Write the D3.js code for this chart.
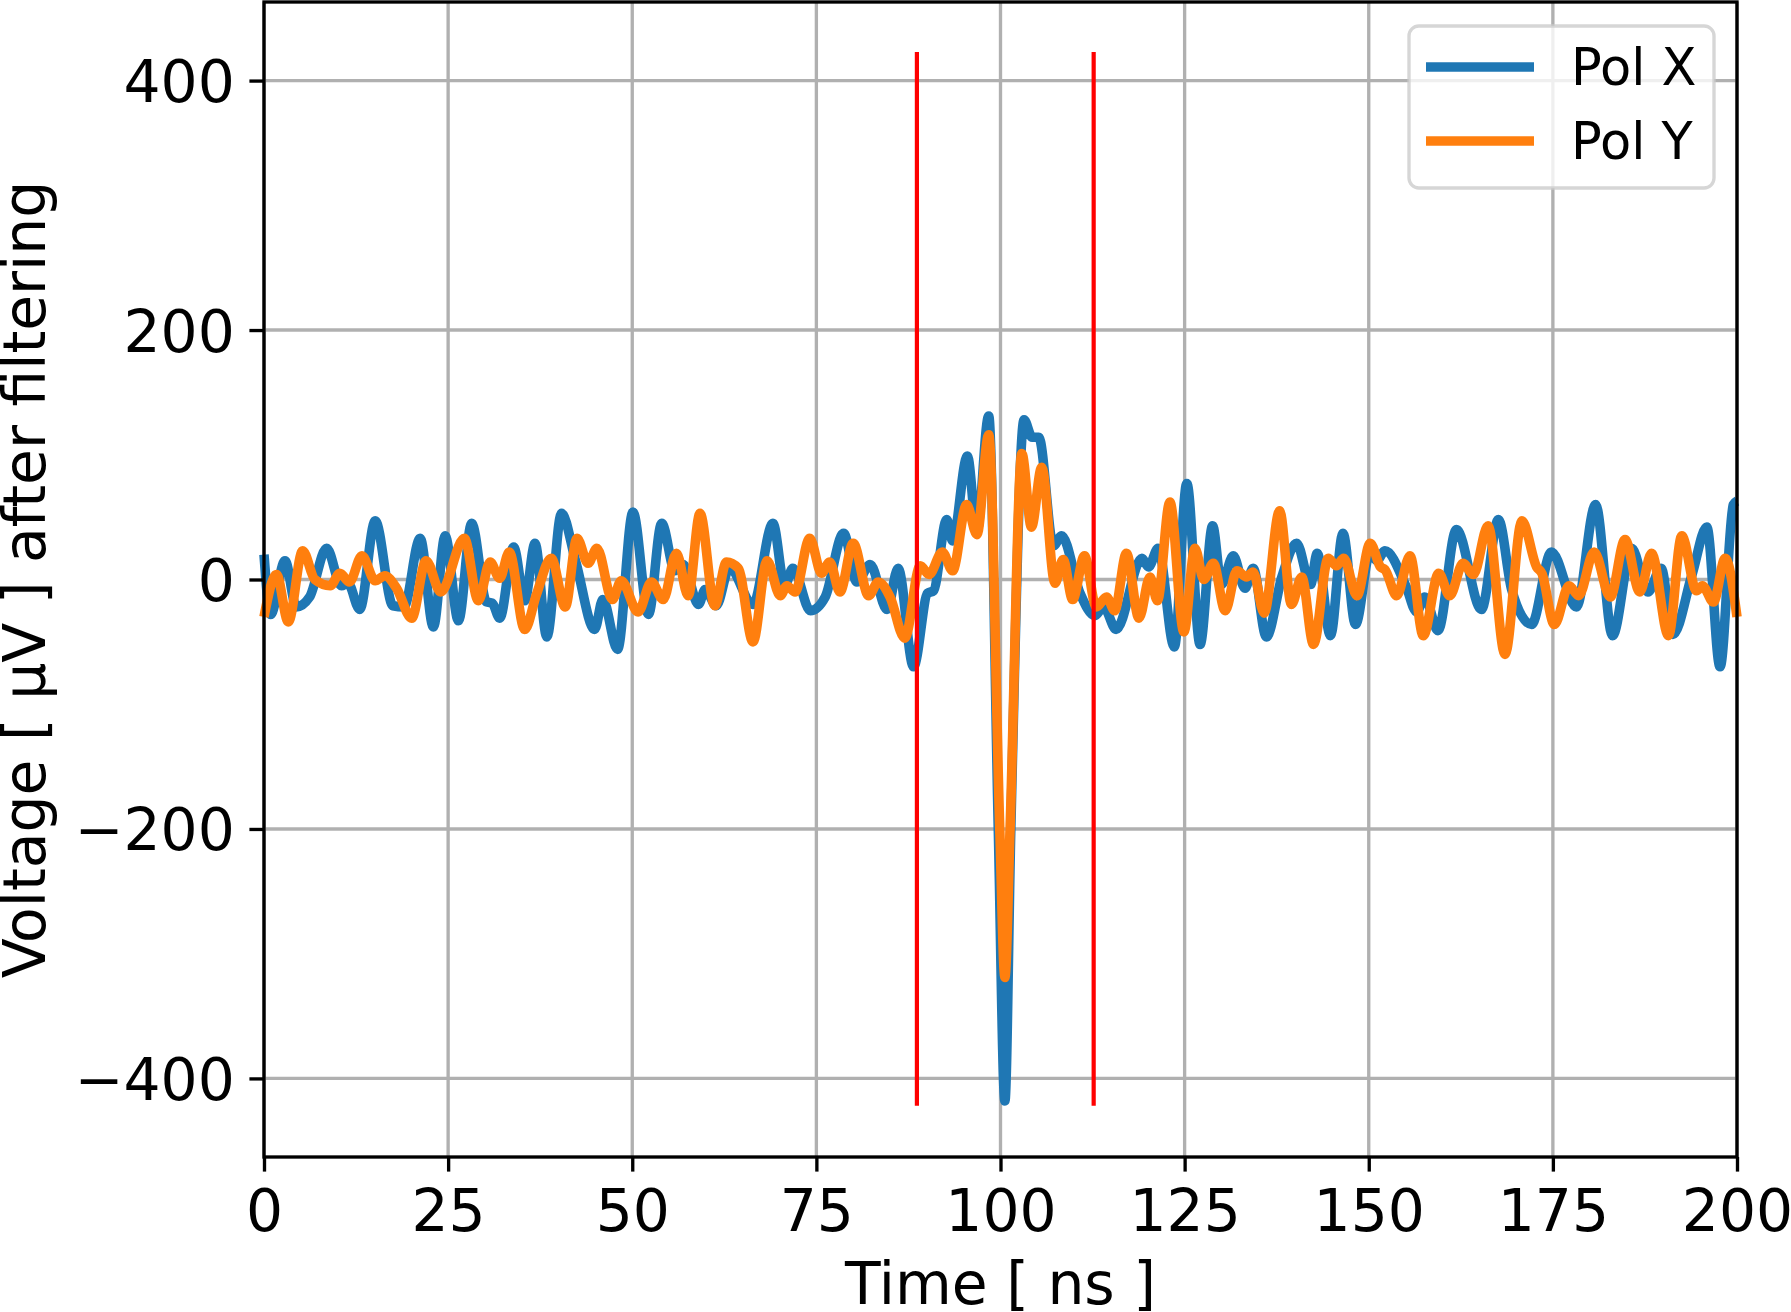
<!DOCTYPE html>
<html lang="en">
<head>
<meta charset="utf-8">
<title>Pol X / Pol Y voltage after filtering</title>
<script src="https://cdn.jsdelivr.net/npm/d3@7"></script>
<style>
  body {
    margin: 0;
    background: white;
  }
  text {
    font-family: "DejaVu Sans", sans-serif;
    fill: black;
  }
</style>
</head>
<body>
<script>
  // readings of the two traces, [time ns, voltage uV]
  let polX = [
    [0, 20], [0.9, -28], [2.85, 15], [4.4, -22], [6.2, -14], [8.5, 25], [10.5, -5],
    [11.4, -3], [13.0, -24], [15.1, 47], [17.5, -21], [19.0, -22], [21.2, 33], [23.0, -38],
    [24.6, 35], [26.4, -33], [28.2, 45], [30.2, -18], [31.0, -19], [32.0, -31], [33.9, 26],
    [35.4, -17], [36.8, 29], [38.4, -46], [40.4, 53], [42.3, 15], [44.9, -40], [46.0, -16],
    [48.0, -56], [50.1, 54], [52.2, -28], [54.0, 45], [55.8, 7], [56.9, 12], [59.0, -20],
    [59.9, -8], [61.4, -21], [63.2, 9], [66.4, -20], [69.1, 45], [70.7, -5], [71.8, 9],
    [74.2, -25], [76.2, -14], [78.7, 37], [80.5, -2], [82.3, 12], [84.6, -24], [86.1, 9],
    [88.2, -70], [90.1, -11], [90.9, -9], [92.7, 48], [93.5, 31], [95.5, 99], [96.8, 39],
    [98.4, 131], [99.7, -200], [100.6, -418], [101.4, -200], [103.2, 128], [104.3, 114],
    [105.2, 114], [107.2, 27], [108.3, 35], [110.8, -11], [112.8, -29], [114.0, -22],
    [115.7, -40], [119.2, 17], [120.1, 10], [121.4, 25], [123.6, -54], [125.3, 77],
    [127.1, -52], [128.8, 43], [130.0, -4], [131.6, 19], [133.2, -7], [134.3, 9],
    [136.1, -46], [138.2, 2], [140.2, 29], [142.1, -4], [143.0, 21], [144.8, -45],
    [146.5, 37], [148.2, -36], [150.2, 22], [151.1, 15], [152.2, 23], [155.1, -6],
    [156.5, -26], [157.6, -14], [159.4, -41], [161.9, 40], [165.3, -24], [167.6, 48],
    [169.4, -8], [172.1, -36], [174.8, 22], [178.2, -22], [180.8, 60], [183.1, -45],
    [185.7, 25], [187.9, -10], [189.7, 9], [191.3, -44], [193.9, 4], [195.9, 42],
    [197.7, -70], [199.5, 60], [200, 63]
  ]

  let polY = [
    [0, -30], [1.7, 4], [3.3, -34], [5.25, 23], [6.9, 0], [9.0, -5], [10.3, 5], [11.6, -2],
    [13.3, 19], [15.1, -1], [16.4, 3], [18.0, -7], [20.05, -31], [22.0, 15], [24.0, -10],
    [27.2, 33], [29.1, -17], [30.7, 14], [32.0, 1], [33.3, 22], [35.4, -40], [37.0, -12],
    [39.0, 17], [40.9, -22], [42.5, 33], [44.0, 13], [45.2, 25], [47.3, -16], [48.5, -1],
    [50.8, -26], [52.6, -2], [54.2, -16], [56.0, 21], [57.6, -13], [59.2, 53], [61.2, -21],
    [62.8, 14], [64.4, 9], [66.4, -50], [68.3, 15], [70.1, -13], [71.0, -5], [72.1, -10],
    [74.1, 33], [75.7, 5], [76.8, 14], [78.2, -10], [80.0, 29], [82.1, -13], [83.4, -2],
    [85.0, -14], [87.0, -47], [89.1, 11], [90.3, 4], [92.1, 22], [93.5, 7], [95.4, 60],
    [96.8, 36], [98.4, 116], [99.9, -200], [100.6, -319], [101.3, -200], [102.9, 101],
    [104.2, 42], [105.6, 90], [107.4, -3], [108.5, 16], [109.8, -16], [111.4, 19],
    [113.0, -22], [114.4, -14], [115.5, -25], [117.1, 21], [118.8, -31], [120.3, 2],
    [121.3, -17], [123.0, 62], [124.9, -42], [126.4, 25], [127.6, 0], [128.9, 13],
    [130.5, -25], [132.1, 7], [133.4, 2], [134.3, 6], [135.8, -27], [137.9, 55],
    [139.5, -20], [140.9, 2], [142.5, -52], [144.5, 17], [145.6, 11], [146.6, 17],
    [148.4, -13], [150.2, 29], [151.6, 10], [152.2, 8], [153.8, -13], [155.6, 19],
    [157.4, -45], [159.5, 5], [161.0, -13], [162.8, 13], [164.2, 4], [166.2, 43],
    [168.5, -60], [170.8, 47], [172.8, 10], [173.5, 5], [175.2, -36], [177.2, -5],
    [178.5, -13], [180.6, 22], [182.8, -14], [184.8, 32], [186.8, -10], [188.4, 21],
    [190.7, -45], [192.5, 35], [194.5, -9], [195.3, -5], [196.8, -18], [198.4, 17],
    [200, -30]
  ]

  // pulse window markers and their extent
  let windowTimes = [88.65, 112.65]
  let windowRange = [-422, 423]

  let xTicks = [0, 25, 50, 75, 100, 125, 150, 175, 200]
  let yTicks = [-400, -200, 0, 200, 400]
  let xDomain = [0, 200]
  let yDomain = [-463, 463]

  let seriesNames = ["Pol X", "Pol Y"]
  let seriesColors = ["#1f77b4", "#ff7f0e"]

  let w = 1791
  let h = 1312
  let margin = {left: 264, right: 54, top: 2, bottom: 155}
  let fontSize = 58.3
  let lineW = 9.6

  let svg = d3.select("body")
    .append("svg")
    .attr("width", w)
    .attr("height", h)

  let xScale = d3.scaleLinear()
    .domain(xDomain)
    .range([margin.left, w - margin.right])

  let yScale = d3.scaleLinear()
    .domain(yDomain)
    .range([h - margin.bottom, margin.top])

  let fmt = (d) => d < 0 ? "\u2212" + Math.abs(d) : String(d)

  // grid
  svg.append("g")
    .selectAll("line")
    .data(xTicks)
    .enter()
    .append("line")
    .attr("x1", (d) => xScale(d))
    .attr("x2", (d) => xScale(d))
    .attr("y1", yScale.range()[0])
    .attr("y2", yScale.range()[1])
    .attr("stroke", "#b0b0b0")
    .attr("stroke-width", 3.33)

  svg.append("g")
    .selectAll("line")
    .data(yTicks)
    .enter()
    .append("line")
    .attr("x1", xScale.range()[0])
    .attr("x2", xScale.range()[1])
    .attr("y1", (d) => yScale(d))
    .attr("y2", (d) => yScale(d))
    .attr("stroke", "#b0b0b0")
    .attr("stroke-width", 3.33)

  let line = d3.line()
    .x((d) => xScale(d[0]))
    .y((d) => yScale(d[1]))
    .curve(d3.curveMonotoneX)

  let allSeries = [polX, polY]

  svg.append("g")
    .selectAll("path")
    .data(allSeries)
    .enter()
    .append("path")
    .attr("d", line)
    .attr("fill", "none")
    .attr("stroke", (d, i) => seriesColors[i])
    .attr("stroke-width", lineW)
    .attr("stroke-linejoin", "round")
    .attr("stroke-linecap", "butt")

  svg.append("g")
    .selectAll("line")
    .data(windowTimes)
    .enter()
    .append("line")
    .attr("x1", (d) => xScale(d))
    .attr("x2", (d) => xScale(d))
    .attr("y1", yScale(windowRange[0]))
    .attr("y2", yScale(windowRange[1]))
    .attr("stroke", "#ff0000")
    .attr("stroke-width", 4.2)

  // axes
  let xAxis = d3.axisBottom(xScale)
    .tickValues(xTicks)
    .tickFormat(fmt)
    .tickSize(14.6)
    .tickPadding(14.6)

  let yAxis = d3.axisLeft(yScale)
    .tickValues(yTicks)
    .tickFormat(fmt)
    .tickSize(14.6)
    .tickPadding(14.6)

  let gx = svg.append("g")
    .attr("transform", "translate(0," + (h - margin.bottom) + ")")
    .call(xAxis)

  let gy = svg.append("g")
    .attr("transform", "translate(" + margin.left + ",0)")
    .call(yAxis)

  for (let g of [gx, gy]) {
    g.select(".domain").remove()
    g.selectAll(".tick line")
      .attr("stroke", "black")
      .attr("stroke-width", 3.33)
    g.selectAll(".tick text")
      .attr("font-size", fontSize)
      .attr("font-family", "DejaVu Sans")
      .attr("fill", "black")
  }
  gx.selectAll(".tick text").attr("dy", "0.76em")
  gy.selectAll(".tick text").attr("dy", "0.36em")

  // frame
  svg.append("rect")
    .attr("x", margin.left)
    .attr("y", margin.top)
    .attr("width", w - margin.left - margin.right)
    .attr("height", h - margin.top - margin.bottom)
    .attr("fill", "none")
    .attr("stroke", "black")
    .attr("stroke-width", 3.33)

  svg.append("text")
    .attr("x", xScale(100))
    .attr("y", 1304)
    .attr("text-anchor", "middle")
    .attr("font-size", fontSize)
    .text("Time [ ns ]")

  svg.append("text")
    .attr("transform", "translate(45," + yScale(0) + ") rotate(-90)")
    .attr("text-anchor", "middle")
    .attr("font-size", fontSize)
    .text("Voltage [ \u00b5V ] after filtering")

  // legend
  let legend = svg.append("g")

  legend.append("rect")
    .attr("x", 1409)
    .attr("y", 26)
    .attr("width", 305)
    .attr("height", 162)
    .attr("rx", 10)
    .attr("fill", "white")
    .attr("fill-opacity", 0.8)
    .attr("stroke", "#cccccc")
    .attr("stroke-opacity", 0.8)
    .attr("stroke-width", 3.33)

  let items = legend.selectAll(".item")
    .data(seriesNames)
    .enter()
    .append("g")
    .attr("transform", (d, i) => "translate(0," + (67 + i * 74) + ")")

  items.append("line")
    .attr("x1", 1426)
    .attr("x2", 1534)
    .attr("stroke", (d, i) => seriesColors[i])
    .attr("stroke-width", lineW)

  items.append("text")
    .attr("x", 1571)
    .attr("y", 18)
    .attr("font-size", 51)
    .text((d) => d)
</script>
</body>
</html>
